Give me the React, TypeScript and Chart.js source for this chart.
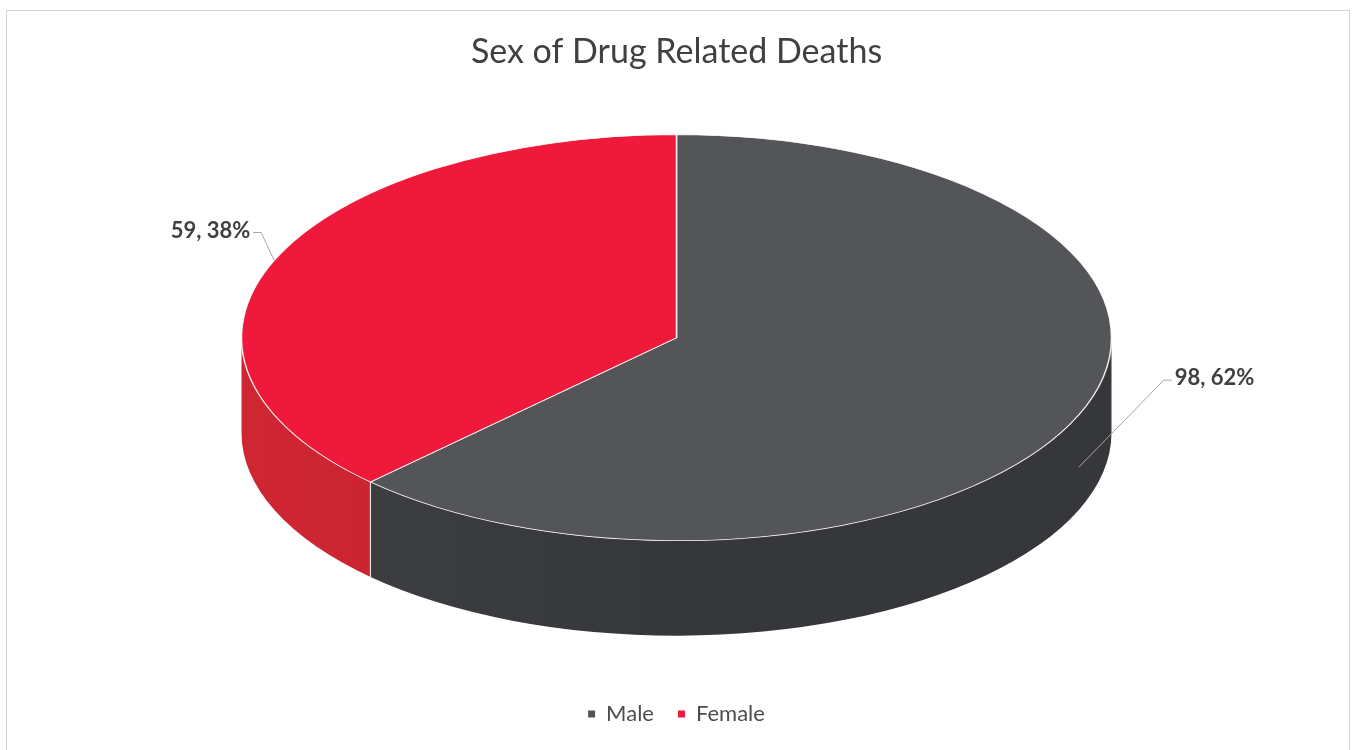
import { useEffect, useRef } from 'react';
import { Chart, registerables } from 'chart.js';

Chart.register(...registerables);

// ---- data ----
const categories = ['Male', 'Female'];
const deaths = [98, 59];
const chartTitle = 'Sex of Drug Related Deaths';

// ---- style ----
const topColors = ['#535558', '#ef1a3b'];
const sideColorsA = ['#36373a', '#c21f2e'];
const sideColorsB = ['#3f4043', '#cf2633'];
const TILT = 203 / 435; // vertical squash of the pie
const DEPTH = 95; // visible thickness in screen px
const PIE_RADIUS = 435;
const LABEL_OFFSETS: [number, number][] = [
  [85, -87],
  [-13, -28],
];
const FONT = 'Lato, "Open Sans", sans-serif';

const pie3d = {
  id: 'pie3d',
  beforeDatasetsDraw(chart: any) {
    const ctx: CanvasRenderingContext2D = chart.ctx;
    const arcs = chart.getDatasetMeta(0).data;
    if (!arcs.length) return;
    const { x: cx, y: cy, outerRadius: r } = arcs[0].getProps(['x', 'y', 'outerRadius'], true);
    const D = DEPTH / TILT;
    ctx.save();
    ctx.translate(cx, cy);
    ctx.scale(1, TILT);
    ctx.translate(-cx, -cy);
    // side walls (only front half visible)
    arcs.forEach((arc: any, i: number) => {
      const { startAngle, endAngle } = arc.getProps(['startAngle', 'endAngle'], true);
      const a1 = Math.max(startAngle, 0);
      const a2 = Math.min(endAngle, Math.PI);
      if (a2 <= a1) return;
      ctx.beginPath();
      ctx.arc(cx, cy, r, a1, a2);
      ctx.arc(cx, cy + D, r, a2, a1, true);
      ctx.closePath();
      const g = ctx.createLinearGradient(cx - r, 0, cx + r, 0);
      g.addColorStop(0, sideColorsB[i]);
      g.addColorStop(0.5, sideColorsA[i]);
      g.addColorStop(1, sideColorsA[i]);
      ctx.fillStyle = g;
      ctx.fill();
    });
    // vertical seams at slice boundaries on the front
    arcs.forEach((arc: any) => {
      const { startAngle } = arc.getProps(['startAngle'], true);
      if (startAngle > 0 && startAngle < Math.PI) {
        const px = cx + r * Math.cos(startAngle);
        const py = cy + r * Math.sin(startAngle);
        ctx.beginPath();
        ctx.moveTo(px, py);
        ctx.lineTo(px, py + D);
        ctx.strokeStyle = 'rgba(255,255,255,0.85)';
        ctx.lineWidth = 1.2;
        ctx.stroke();
      }
    });
    // transform stays active for the top faces drawn by Chart.js
  },
  afterDatasetsDraw(chart: any) {
    const ctx: CanvasRenderingContext2D = chart.ctx;
    ctx.restore();
    const arcs = chart.getDatasetMeta(0).data;
    const total = deaths.reduce((a, b) => a + b, 0);
    arcs.forEach((arc: any, i: number) => {
      const { startAngle, endAngle, x, y, outerRadius } = arc.getProps(
        ['startAngle', 'endAngle', 'x', 'y', 'outerRadius'],
        true
      );
      const mid = (startAngle + endAngle) / 2;
      const ax = x + outerRadius * Math.cos(mid);
      let ay = y + outerRadius * Math.sin(mid) * TILT;
      if (Math.sin(mid) > 0) ay += DEPTH * 0.55;
      const [ox, oy] = LABEL_OFFSETS[i];
      const ex = ax + ox;
      const ey = ay + oy;
      const dir = ox > 0 ? 1 : -1;
      ctx.save();
      ctx.beginPath();
      ctx.moveTo(ax, ay);
      ctx.lineTo(ex, ey);
      ctx.lineTo(ex + dir * 8, ey);
      ctx.strokeStyle = '#a6a6a6';
      ctx.lineWidth = 1;
      ctx.stroke();
      ctx.font = `bold 22px ${FONT}`;
      ctx.fillStyle = '#404040';
      ctx.textBaseline = 'middle';
      ctx.textAlign = dir > 0 ? 'left' : 'right';
      const pct = Math.round((deaths[i] / total) * 100);
      ctx.fillText(`${deaths[i]}, ${pct}%`, ex + dir * 11, ey - 2);
      ctx.restore();
    });
  },
};

export default function App() {
  const ref = useRef<HTMLCanvasElement>(null);
  useEffect(() => {
    if (!ref.current) return;
    const baseGen = (Chart as any).overrides.doughnut.plugins.legend.labels.generateLabels;
    const chart = new Chart(ref.current, {
      type: 'pie',
      data: {
        labels: categories,
        datasets: [
          {
            data: deaths,
            backgroundColor: topColors,
            borderColor: 'rgba(255,255,255,0.9)',
            borderWidth: 1.5,
            radius: PIE_RADIUS,
            clip: false,
          } as any,
        ],
      },
      plugins: [pie3d],
      options: {
        responsive: false,
        animation: false,
        events: [],
        layout: { padding: { bottom: 15 } },
        plugins: {
          title: {
            display: true,
            text: chartTitle,
            color: '#404040',
            font: { family: FONT, size: 34, weight: 'normal' },
            padding: { top: 32, bottom: 10 },
          },
          legend: {
            display: true,
            position: 'bottom',
            title: { display: true, text: ' ', padding: { top: 72, bottom: 0 }, font: { size: 12 } },
            labels: {
              usePointStyle: true,
              pointStyle: 'rect',
              boxWidth: 7,
              boxHeight: 7,
              padding: 24,
              color: '#4d4d4d',
              font: { family: FONT, size: 22 },
              generateLabels: (c: any) =>
                baseGen(c).map((l: any) => ({ ...l, lineWidth: 0, strokeStyle: l.fillStyle })),
            },
          },
          tooltip: { enabled: false },
        },
      },
    });
    return () => chart.destroy();
  }, []);
  return (
    <div style={{ position: 'absolute', left: 0, top: 0, width: 1353, height: 750, background: '#fff' }}>
      <canvas ref={ref} width={1353} height={750} style={{ position: 'absolute', left: 0, top: 0 }} />
      <div
        style={{
          position: 'absolute',
          left: 6,
          top: 10,
          width: 1342,
          height: 745,
          border: '1px solid #d4d4d4',
          pointerEvents: 'none',
        }}
      />
    </div>
  );
}
